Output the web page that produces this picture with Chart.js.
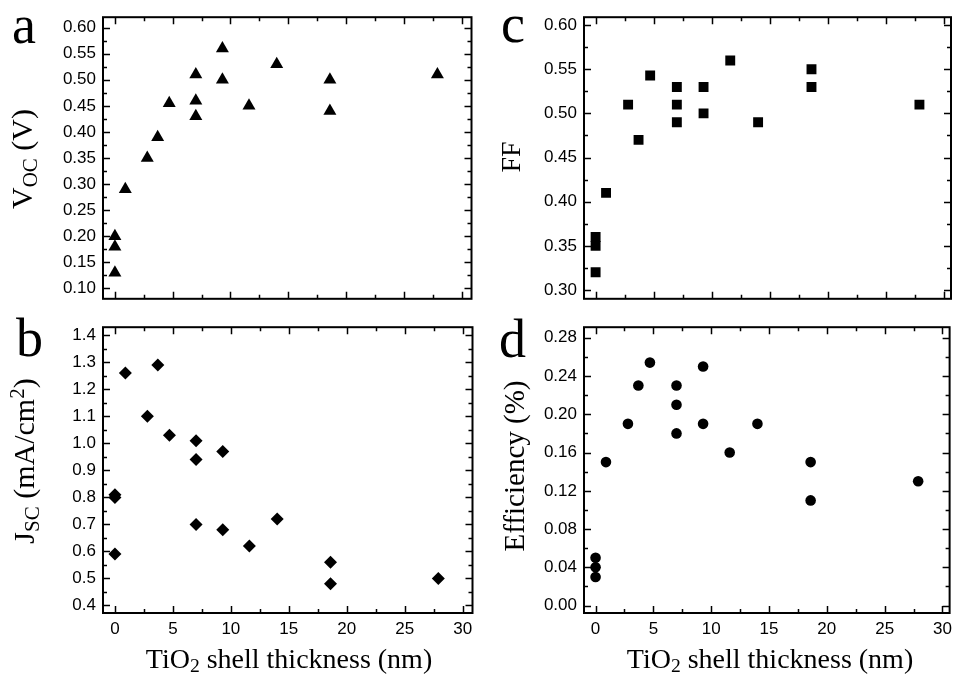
<!DOCTYPE html>
<html>
<head>
<meta charset="utf-8">
<script src="https://cdn.jsdelivr.net/npm/chart.js@4.4.1/dist/chart.umd.min.js"></script>
<style>
  body { margin: 0; background: #fff; }
  #wrap { position: relative; width: 958px; height: 675px; overflow: hidden; font-family: "Liberation Serif", "Times New Roman", serif; color: #000; }
  canvas { position: absolute; }
  .letter { position: absolute; font-size: 54px; line-height: 1; }
  .ytitle { position: absolute; white-space: nowrap; line-height: 1; transform: translate(-50%, -50%) rotate(-90deg); }
  .xtitle { position: absolute; white-space: nowrap; font-size: 28px; line-height: 1; transform: translateX(-50%); }
  .sub { font-size: 0.7em; vertical-align: -0.22em; }
  .sup { font-size: 0.7em; vertical-align: 0.45em; }
</style>
</head>
<body>
<div id="wrap">
  <canvas id="panelA" width="479" height="316" style="left:0;top:0"></canvas>
  <canvas id="panelB" width="479" height="365" style="left:0;top:310px"></canvas>
  <canvas id="panelC" width="478" height="316" style="left:480px;top:0"></canvas>
  <canvas id="panelD" width="478" height="365" style="left:480px;top:310px"></canvas>

  <div class="letter" style="left:12px;top:-2px">a</div>
  <div class="letter" style="left:16px;top:311px">b</div>
  <div class="letter" style="left:501px;top:-3px">c</div>
  <div class="letter" style="left:499px;top:312px">d</div>

  <div class="ytitle" style="left:24px;top:159px;font-size:30px">V<span class="sub">OC</span> (V)</div>
  <div class="ytitle" style="left:25px;top:461px;font-size:30px">J<span class="sub">SC</span> (mA/cm<span class="sup">2</span>)</div>
  <div class="ytitle" style="left:511px;top:157px;font-size:28px">FF</div>
  <div class="ytitle" style="left:514px;top:466px;font-size:29px">Efficiency (%)</div>

  <div class="xtitle" style="left:289px;top:645px">TiO<span class="sub">2</span> shell thickness (nm)</div>
  <div class="xtitle" style="left:770px;top:645px">TiO<span class="sub">2</span> shell thickness (nm)</div>
</div>

<script>
// shell thickness (nm) of each sample, shared by all four panels
const thickness = [0, 0, 0, 0.9, 2.8, 3.7, 4.7, 7.0, 7.0, 7.0, 9.3, 9.3, 11.6, 14.0, 18.6, 18.6, 27.9];

const vocValues = [0.20, 0.18, 0.13, 0.29, 0.35, 0.39, 0.455, 0.51, 0.46, 0.43, 0.56, 0.50, 0.45, 0.53, 0.50, 0.44, 0.51];
const jscValues = [0.81, 0.80, 0.59, 1.26, 1.10, 1.29, 1.03, 1.01, 0.94, 0.70, 0.97, 0.68, 0.62, 0.72, 0.56, 0.48, 0.50];
const ffValues  = [0.36, 0.35, 0.32, 0.41, 0.51, 0.47, 0.543, 0.53, 0.51, 0.49, 0.53, 0.50, 0.56, 0.49, 0.55, 0.53, 0.51];
const effValues = [0.05, 0.04, 0.03, 0.15, 0.19, 0.23, 0.254, 0.23, 0.21, 0.18, 0.25, 0.19, 0.16, 0.19, 0.15, 0.11, 0.13];

const xTicks   = [0, 5, 10, 15, 20, 25, 30];
const vocTicks = [0.10, 0.15, 0.20, 0.25, 0.30, 0.35, 0.40, 0.45, 0.50, 0.55, 0.60];
const jscTicks = [0.4, 0.5, 0.6, 0.7, 0.8, 0.9, 1.0, 1.1, 1.2, 1.3, 1.4];
const ffTicks  = [0.30, 0.35, 0.40, 0.45, 0.50, 0.55, 0.60];
const effTicks = [0.00, 0.04, 0.08, 0.12, 0.16, 0.20, 0.24, 0.28];

// box around the plot with inward major + minor ticks on every side (Origin style)
const framePlugin = {
  id: 'frame',
  afterDraw(chart) {
    const { ctx, chartArea: a } = chart;
    const xs = chart.scales.x, ys = chart.scales.y;
    const xt = chart.options.plugins.frame.xTicks;
    const yt = chart.options.plugins.frame.yTicks;
    const mids = t => t.slice(1).map((v, i) => (v + t[i]) / 2);

    ctx.save();
    ctx.strokeStyle = '#000';
    ctx.lineWidth = 1.5;
    ctx.beginPath();
    const tick = (vals, len) => {
      vals.forEach(v => {
        const px = Math.round(xs.getPixelForValue(v)) + 0.5;
        if (px < a.left || px > a.right) return;
        ctx.moveTo(px, a.bottom); ctx.lineTo(px, a.bottom - len);
        ctx.moveTo(px, a.top); ctx.lineTo(px, a.top + len);
      });
    };
    const ytick = (vals, len) => {
      vals.forEach(v => {
        const py = Math.round(ys.getPixelForValue(v)) + 0.5;
        if (py < a.top || py > a.bottom) return;
        ctx.moveTo(a.left, py); ctx.lineTo(a.left + len, py);
        ctx.moveTo(a.right, py); ctx.lineTo(a.right - len, py);
      });
    };
    tick(xt, 7); tick(mids(xt), 4);
    ytick(yt, 7); ytick(mids(yt), 4);
    ctx.stroke();

    ctx.lineWidth = 2;
    ctx.strokeRect(a.left, a.top, a.right - a.left, a.bottom - a.top);
    ctx.restore();
  }
};

const makePanel = (id, cfg) => {
  const tickFont = { family: '"Liberation Sans", Arial, sans-serif', size: 17 };
  return new Chart(document.getElementById(id), {
    type: 'scatter',
    data: {
      datasets: [{
        data: thickness.map((t, i) => ({ x: t, y: cfg.values[i] })),
        pointStyle: cfg.style,
        pointRadius: cfg.radius,
        backgroundColor: '#000',
        borderColor: '#000',
        borderWidth: 0
      }]
    },
    plugins: [framePlugin],
    options: {
      responsive: false,
      animation: false,
      events: [],
      layout: { padding: cfg.padding },
      plugins: {
        legend: { display: false },
        tooltip: { enabled: false },
        frame: { xTicks: xTicks, yTicks: cfg.yTicks }
      },
      scales: {
        x: {
          type: 'linear',
          min: cfg.xMin, max: cfg.xMax,
          afterBuildTicks: s => { s.ticks = xTicks.map(v => ({ value: v })); },
          afterFit: s => { s.height = cfg.showX ? 40 : 0; },
          grid: { display: false, drawTicks: false, tickLength: 0 },
          border: { display: false },
          ticks: { display: cfg.showX, color: '#000', font: tickFont, padding: 6, callback: v => v }
        },
        y: {
          min: cfg.yMin, max: cfg.yMax,
          afterBuildTicks: s => { s.ticks = cfg.yTicks.map(v => ({ value: v })); },
          afterFit: s => { s.width = cfg.yWidth; },
          grid: { display: false, drawTicks: false, tickLength: 0 },
          border: { display: false },
          ticks: { color: '#000', font: tickFont, padding: 7, callback: v => v.toFixed(cfg.digits) }
        }
      }
    }
  });
};

makePanel('panelA', {
  values: vocValues, yTicks: vocTicks, digits: 2, style: 'triangle', radius: 7.5,
  yMin: 0.08, yMax: 0.62, xMin: -1.03, xMax: 30.85, showX: false, yWidth: 103,
  padding: { left: 0, right: 3, top: 13, bottom: 3 }
});
makePanel('panelB', {
  values: jscValues, yTicks: jscTicks, digits: 1, style: 'rectRot', radius: 6.5,
  yMin: 0.372, yMax: 1.43, xMin: -1.03, xMax: 30.85, showX: true, yWidth: 103,
  padding: { left: 0, right: 3, top: 3, bottom: 22 }
});
makePanel('panelC', {
  values: ffValues, yTicks: ffTicks, digits: 2, style: 'rect', radius: 7,
  yMin: 0.29, yMax: 0.609, xMin: -1.0, xMax: 30.62, showX: false, yWidth: 104,
  padding: { left: 0, right: 4, top: 13, bottom: 3 }
});
makePanel('panelD', {
  values: effValues, yTicks: effTicks, digits: 2, style: 'circle', radius: 5.3,
  yMin: -0.0077, yMax: 0.291, xMin: -1.0, xMax: 30.62, showX: true, yWidth: 104,
  padding: { left: 0, right: 4, top: 3, bottom: 22 }
});
</script>
</body>
</html>
